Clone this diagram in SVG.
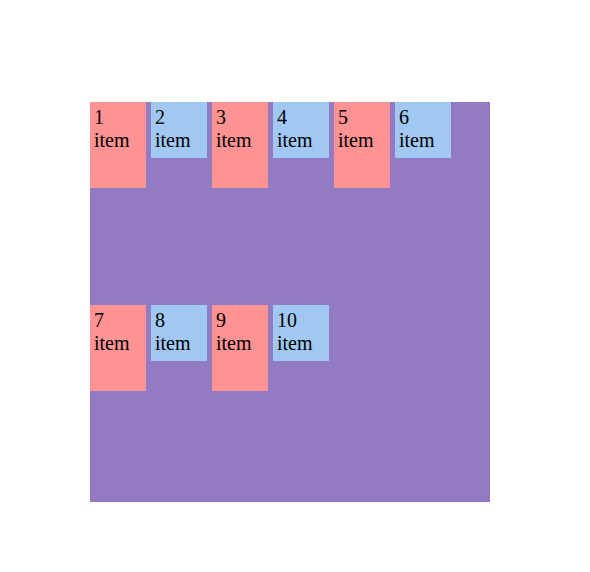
<svg xmlns="http://www.w3.org/2000/svg" width="590" height="572" viewBox="0 0 590 572">
<style>
.c{fill:#927bc2}
.p{fill:#ff9292}
.b{fill:#a0c8f2}
text{font-family:"Liberation Serif","Times New Roman",serif;font-size:20px;fill:#000}
</style>
<rect width="590" height="572" fill="#fff"/>
<g id="container"><rect class="c" x="90" y="102" width="400" height="400"/></g>
<g id="item1"><rect class="p" x="90" y="102" width="56" height="86"/><text x="94" y="124">1</text><text x="94" y="147">item</text></g>
<g id="item2"><rect class="b" x="151" y="102" width="56" height="56"/><text x="155" y="124">2</text><text x="155" y="147">item</text></g>
<g id="item3"><rect class="p" x="212" y="102" width="56" height="86"/><text x="216" y="124">3</text><text x="216" y="147">item</text></g>
<g id="item4"><rect class="b" x="273" y="102" width="56" height="56"/><text x="277" y="124">4</text><text x="277" y="147">item</text></g>
<g id="item5"><rect class="p" x="334" y="102" width="56" height="86"/><text x="338" y="124">5</text><text x="338" y="147">item</text></g>
<g id="item6"><rect class="b" x="395" y="102" width="56" height="56"/><text x="399" y="124">6</text><text x="399" y="147">item</text></g>
<g id="item7"><rect class="p" x="90" y="305" width="56" height="86"/><text x="94" y="327">7</text><text x="94" y="350">item</text></g>
<g id="item8"><rect class="b" x="151" y="305" width="56" height="56"/><text x="155" y="327">8</text><text x="155" y="350">item</text></g>
<g id="item9"><rect class="p" x="212" y="305" width="56" height="86"/><text x="216" y="327">9</text><text x="216" y="350">item</text></g>
<g id="item10"><rect class="b" x="273" y="305" width="56" height="56"/><text x="277" y="327">10</text><text x="277" y="350">item</text></g>
<g id="connectors"/>
</svg>
